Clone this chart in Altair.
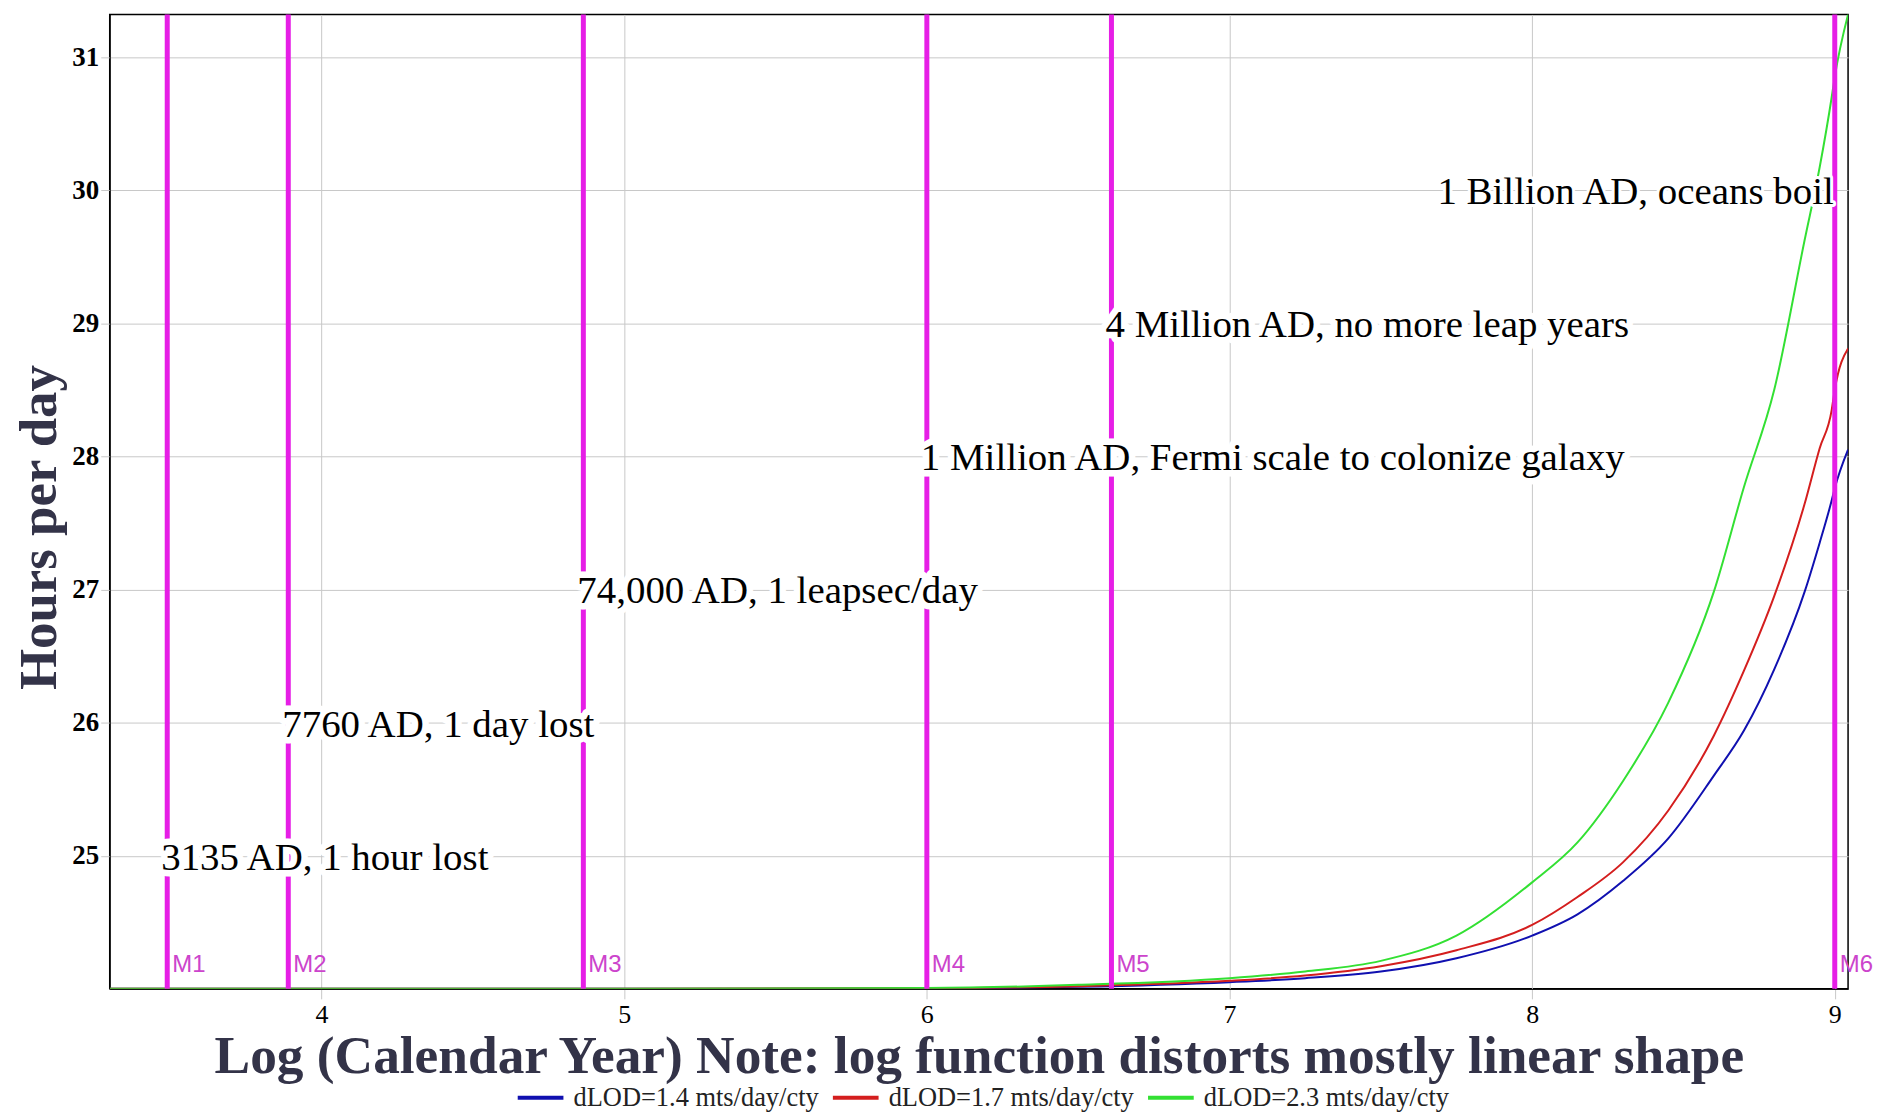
import altair as alt
import pandas as pd

# ---- data ----
log_year = [3.30, 4.0, 5.0, 6.0, 6.5, 7.0, 7.25, 7.5, 7.75, 8.0, 8.15, 8.3, 8.45,
            8.6, 8.7, 8.8, 8.9, 8.95, 8.99, 9.0, 9.044]
hours_14 = [24.0, 24.0, 24.0, 24.003, 24.015, 24.05, 24.08, 24.13, 24.23, 24.40, 24.56,
            24.81, 25.13, 25.60, 25.94, 26.40, 26.98, 27.35, 27.67, 27.76, 28.05]
hours_17 = [24.0, 24.0, 24.0, 24.004, 24.02, 24.06, 24.10, 24.17, 24.29, 24.48, 24.69,
            24.95, 25.34, 25.90, 26.39, 26.95, 27.64, 28.06, 28.35, 28.50, 28.81]
hours_23 = [24.0, 24.0, 24.0, 24.006, 24.03, 24.08, 24.13, 24.21, 24.40, 24.80, 25.10,
            25.56, 26.15, 26.98, 27.77, 28.50, 29.62, 30.17, 30.70, 30.85, 31.32]
series_names = ["dLOD=1.4 mts/day/cty", "dLOD=1.7 mts/day/cty", "dLOD=2.3 mts/day/cty"]
series_colors = ["#1010b0", "#d41e1e", "#33e033"]

marker_names = ["M1", "M2", "M3", "M4", "M5", "M6"]
marker_log_year = [3.49, 3.89, 4.865, 6.0, 6.61, 9.0]
event_text = ["3135 AD, 1 hour lost", "7760 AD, 1 day lost", "74,000 AD, 1 leapsec/day",
              "1 Million AD, Fermi scale to colonize galaxy",
              "4 Million AD, no more leap years", "1 Billion AD, oceans boil"]
event_hours = [25, 26, 27, 28, 29, 30]
event_side = ["left", "left", "left", "left", "left", "right"]

x_ticks = [4, 5, 6, 7, 8, 9]
y_ticks = [25, 26, 27, 28, 29, 30, 31]

rows = []
for name, vals in zip(series_names, [hours_14, hours_17, hours_23]):
    for xv, yv in zip(log_year, vals):
        rows.append({"series": name, "log_year": xv, "hours": yv})
lines_df = pd.DataFrame(rows)

markers_df = pd.DataFrame({
    "marker": marker_names, "log_year": marker_log_year,
    "label": event_text, "hours": event_hours, "side": event_side,
})

SERIF = "Liberation Serif"
TITLE_COLOR = "#333348"
MAGENTA = "#e61ee6"

xscale = alt.Scale(domain=[3.30, 9.044], nice=False, zero=False)
yscale = alt.Scale(domain=[24.0, 31.32], nice=False, zero=False)

xaxis = alt.Axis(values=x_ticks, format="d", grid=True, gridColor="#c8c8c8",
                 tickColor="#c8c8c8", tickSize=10, domainColor="black",
                 labelFont=SERIF, labelFontSize=26, labelColor="black", labelPadding=3,
                 title="Log (Calendar Year)  Note: log function distorts mostly linear shape",
                 titleFont=SERIF, titleFontSize=53.5, titleFontWeight="bold",
                 titleColor=TITLE_COLOR, titleY=68, titleBaseline="middle")
yaxis = alt.Axis(values=y_ticks, format="d", grid=True, gridColor="#c8c8c8",
                 tickColor="#c8c8c8", tickSize=9, domainColor="black",
                 labelFont=SERIF, labelFontSize=27, labelFontWeight="bold",
                 labelColor="black", labelPadding=2,
                 title="Hours per day", titleFont=SERIF, titleFontSize=53,
                 titleFontWeight="bold", titleColor=TITLE_COLOR,
                 titleX=-70, titleY=514, titleAngle=270, titleAlign="center",
                 titleBaseline="middle")

lines = alt.Chart(lines_df).mark_line(strokeWidth=2, clip=True,
                                      interpolate="monotone").encode(
    x=alt.X("log_year:Q", scale=xscale, axis=xaxis),
    y=alt.Y("hours:Q", scale=yscale, axis=yaxis),
    color=alt.Color("series:N",
                    scale=alt.Scale(domain=series_names, range=series_colors),
                    legend=alt.Legend(orient="none", legendX=407, legendY=1061,
                                      direction="horizontal", title=None,
                                      symbolType="stroke", symbolSize=2100,
                                      symbolStrokeWidth=4, labelFont=SERIF,
                                      labelFontSize=26.5, labelColor="#222222",
                                      labelLimit=500,
                                      labelOffset=8, columnPadding=5)),
    detail="series:N",
)

rules = alt.Chart(markers_df).mark_rule(color=MAGENTA, strokeWidth=5).encode(
    x=alt.X("log_year:Q", scale=xscale),
)

left_df = markers_df[markers_df["side"] == "left"]
right_df = markers_df[markers_df["side"] == "right"]

def labels(df, align, dx, halo, width):
    base = alt.Chart(df)
    if halo:
        mk = base.mark_text(align=align, baseline="middle", dx=dx, dy=2, font=SERIF,
                            fontSize=39, stroke="white", strokeWidth=width,
                            strokeJoin="round", fill="white")
    else:
        mk = base.mark_text(align=align, baseline="middle", dx=dx, dy=2, font=SERIF,
                            fontSize=39, color="black")
    return mk.encode(x=alt.X("log_year:Q", scale=xscale),
                     y=alt.Y("hours:Q", scale=yscale), text="label:N")

halo_l = labels(left_df, "left", -6, True, 13)
text_l = labels(left_df, "left", -6, False, 0)
halo_r = labels(right_df, "right", -1, True, 6)
text_r = labels(right_df, "right", -1, False, 0)

mlabels = alt.Chart(markers_df).mark_text(
    align="left", baseline="middle", dx=5, font="Liberation Sans", fontSize=24,
    color="#cc44cc").encode(
    x=alt.X("log_year:Q", scale=xscale), y=alt.value(953), text="marker:N")

chart = alt.layer(lines, rules, halo_l, halo_r, text_l, text_r, mlabels).properties(
    width=1743, height=977,
    padding={"left": 102, "top": 5, "right": 26, "bottom": 124},
    autosize=alt.AutoSizeParams(type="none"),
).configure_view(stroke="black", strokeWidth=1.5)

chart.save("out.html", embed_options={"renderer": "svg", "actions": False})
